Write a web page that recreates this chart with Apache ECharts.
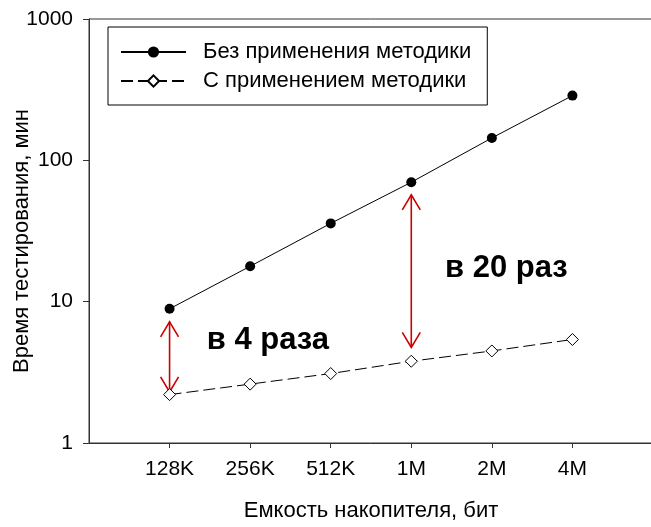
<!DOCTYPE html>
<html>
<head>
<meta charset="utf-8">
<script src="https://cdn.jsdelivr.net/npm/echarts@6/dist/echarts.min.js"></script>
<style>
  html, body { margin: 0; padding: 0; background: #fff; }
  #chart { width: 651px; height: 527px; }
</style>
</head>
<body>
<div id="chart"></div>
<script>
// Storage capacity categories and measured test times (minutes)
const capacities = ['128K', '256K', '512K', '1M', '2M', '4M'];
const timeWithout = [8.9, 17.8, 35.8, 70, 144, 287];
const timeWith = [2.2, 2.61, 3.1, 3.79, 4.48, 5.4];
const yTickValues = [1, 10, 100, 1000];

// Ratio annotations: capacity index, arrow ends (minutes), label text and anchor
const noteIndex = [0, 3];
const noteTop = [7.2, 57];
const noteBottom = [2.3, 4.75];
const noteText = ['в 4 раза', 'в 20 раз'];
const noteLabelPos = [2.22, 5.18];
const noteLabelTime = [5.34, 17.3];

const FONT = '"Liberation Sans", Arial, sans-serif';
const RED = '#cc0000';

const positions = capacities.map((_, i) => i + 1);

const chart = echarts.init(document.getElementById('chart'), null, { renderer: 'canvas' });

chart.setOption({
  animation: false,
  backgroundColor: '#fff',
  grid: {
    left: 89, top: 19, width: 564, height: 424,
    containLabel: false, outerBoundsMode: 'none',
    show: true, borderColor: '#333', borderWidth: 1, backgroundColor: 'transparent'
  },
  legend: {
    orient: 'vertical',
    left: 108, top: 27,
    padding: [14, 16, 13, 12],
    itemWidth: 65, itemHeight: 14, itemGap: 7,
    borderColor: '#000', borderWidth: 1,
    textStyle: { fontFamily: FONT, fontSize: 22, color: '#000', lineHeight: 22, padding: [0, 0, 0, 12] },
    data: ['Без применения методики', 'С применением методики']
  },
  xAxis: {
    type: 'value', min: 0, max: positions.length + 1, interval: 1,
    name: 'Емкость накопителя, бит', nameLocation: 'middle', nameGap: 57, nameMoveOverlap: false,
    nameTextStyle: { fontFamily: FONT, fontSize: 22, color: '#000' },
    axisLine: { show: true, lineStyle: { color: '#333', width: 1 } },
    axisTick: { show: true, length: 5, inside: false, customValues: positions, lineStyle: { color: '#333' } },
    axisLabel: {
      customValues: positions, margin: 16,
      fontFamily: FONT, fontSize: 21, color: '#000',
      formatter: v => capacities[v - 1] || ''
    },
    splitLine: { show: false }
  },
  yAxis: {
    type: 'log', logBase: 10, min: 1, max: 1000,
    name: 'Время тестирования, мин', nameLocation: 'middle', nameGap: 56, nameRotate: 90, nameMoveOverlap: false,
    nameTextStyle: { fontFamily: FONT, fontSize: 22, color: '#000', padding: [0, 20, 0, 0] },
    axisLine: { show: true, lineStyle: { color: '#333', width: 1 } },
    axisTick: { show: true, length: 6, inside: false, customValues: yTickValues, lineStyle: { color: '#333' } },
    minorTick: { show: false },
    axisLabel: {
      customValues: yTickValues, margin: 16,
      fontFamily: FONT, fontSize: 21, color: '#000',
      formatter: v => String(v)
    },
    splitLine: { show: false }
  },
  series: [
    {
      type: 'custom',
      name: 'notes',
      silent: true,
      z: 1,
      data: noteIndex.map((idx, i) => [positions[idx], noteTop[i], noteBottom[i], noteLabelPos[i], noteLabelTime[i]]),
      renderItem: (params, api) => {
        const i = params.dataIndex;
        const top = api.coord([api.value(0), api.value(1)]);
        const bot = api.coord([api.value(0), api.value(2)]);
        const lab = api.coord([api.value(3), api.value(4)]);
        const hw = 9, hl = 15;
        const stroke = { stroke: RED, lineWidth: 1.6, fill: null };
        return {
          type: 'group',
          children: [
            { type: 'line', shape: { x1: top[0], y1: top[1], x2: bot[0], y2: bot[1] }, style: stroke },
            { type: 'polyline', shape: { points: [[top[0] - hw, top[1] + hl], [top[0], top[1]], [top[0] + hw, top[1] + hl]] }, style: stroke },
            { type: 'polyline', shape: { points: [[bot[0] - hw, bot[1] - hl], [bot[0], bot[1]], [bot[0] + hw, bot[1] - hl]] }, style: stroke },
            {
              type: 'text', x: lab[0], y: lab[1],
              style: {
                text: noteText[i], fill: '#000', align: 'center', verticalAlign: 'middle',
                font: 'bold 31px ' + FONT
              }
            }
          ]
        };
      }
    },
    {
      type: 'line',
      name: 'Без применения методики',
      z: 3,
      data: positions.map((x, i) => [x, timeWithout[i]]),
      symbol: 'circle', symbolSize: 10,
      itemStyle: { color: '#000' },
      lineStyle: { color: '#000', width: 1 }
    },
    {
      type: 'line',
      name: 'С применением методики',
      z: 3,
      data: positions.map((x, i) => [x, timeWith[i]]),
      symbol: 'diamond', symbolSize: 12,
      itemStyle: { color: '#fff', borderColor: '#000', borderWidth: 1 },
      lineStyle: { color: '#000', width: 1, type: [12, 5] }
    }
  ]
});
</script>
</body>
</html>
